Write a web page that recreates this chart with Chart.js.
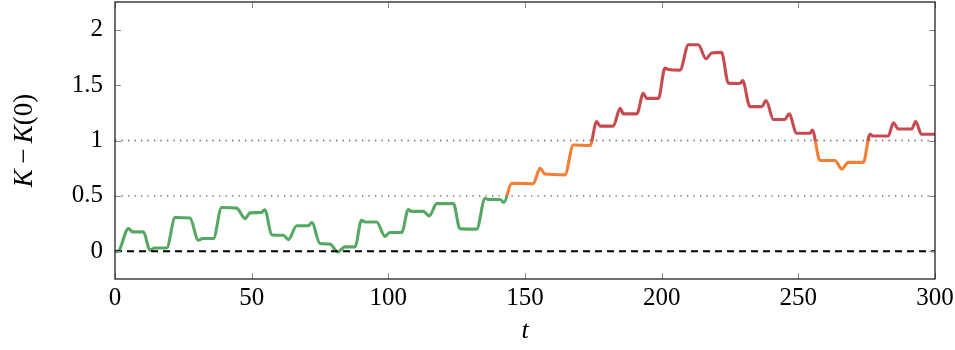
<!DOCTYPE html>
<html>
<head>
<meta charset="utf-8">
<script src="https://cdn.jsdelivr.net/npm/chart.js@4/dist/chart.umd.min.js"></script>
<style>
  html, body { margin: 0; padding: 0; background: #ffffff; }
  #wrap { width: 955px; height: 350px; position: relative; }
</style>
</head>
<body>
<div id="wrap"><canvas id="c" width="955" height="350"></canvas></div>
<script>
// ---- data ----
const tValues = [0, 1, 4.9, 6.5, 10.4, 12.8, 14.5, 18.9, 22, 27.4, 30.5, 32, 36, 39, 44.5, 47.6, 49.4, 53.5, 54.8, 57.3,
  58.5, 61.6, 63.4, 66.5, 70.7, 72, 75, 78.7, 81.5, 84.1, 87.8, 90.2, 91.5, 95.7, 98.8, 100.5, 104.9, 107.3, 108.5, 112.8,
  115, 117.7, 123.8, 126.2, 132.3, 135.4, 136.5, 140.9, 142.3, 145.1, 153, 155.5, 157.3, 164.6, 167.7, 173.8, 176.2, 177.5, 182.3, 184.8,
  186, 190.9, 193.3, 194.5, 198.8, 201.2, 202.5, 206.7, 209.8, 213.4, 216.2, 218.3, 221.9, 224.4, 228.7, 229.6, 232.3, 236.6, 238.2, 240.9,
  245.1, 246.6, 249.4, 254.3, 255.1, 257.9, 263.4, 265.9, 268.3, 273.8, 276.2, 277.5, 282.9, 284.8, 286.5, 291.5, 292.9, 295.1, 300];
const kValues = [0, 0, 0.205, 0.175, 0.175, 0.01, 0.03, 0.03, 0.305, 0.3, 0.1, 0.115, 0.115, 0.395, 0.39, 0.295, 0.347, 0.35, 0.375, 0.15,
  0.145, 0.145, 0.105, 0.23, 0.23, 0.26, 0.07, 0.065, -0.006, 0.04, 0.04, 0.28, 0.265, 0.265, 0.135, 0.17, 0.17, 0.377, 0.36, 0.36,
  0.32, 0.43, 0.43, 0.205, 0.2, 0.477, 0.468, 0.468, 0.44, 0.613, 0.61, 0.748, 0.697, 0.69, 0.96, 0.955, 1.17, 1.13, 1.13, 1.29,
  1.24, 1.24, 1.427, 1.38, 1.38, 1.653, 1.64, 1.635, 1.864, 1.864, 1.738, 1.79, 1.795, 1.518, 1.515, 1.54, 1.306, 1.306, 1.36, 1.19,
  1.19, 1.24, 1.065, 1.065, 1.095, 0.82, 0.82, 0.742, 0.803, 0.803, 1.056, 1.04, 1.04, 1.16, 1.104, 1.104, 1.17, 1.056, 1.056];

const xTicks = [0, 50, 100, 150, 200, 250, 300];
const xTickLabels = ['0', '50', '100', '150', '200', '250', '300'];
const yTicks = [0, 0.5, 1, 1.5, 2];
const yTickLabels = ['0', '0.5', '1', '1.5', '2'];
const thresholds = [0.5, 1];
const zeroLine = [0, 0];
const xRange = [0, 300];
const yRange = [-0.25, 2.25];
const bandColors = ['#55a862', '#f47f33', '#c64b50'];
const xTitle = 't';
const yTitleParts = [['K', true], ['\u2009\u2212\u2009', false], ['K', true], ['(0)', false]];

// ---- chart ----
const FONT = "'Liberation Serif', 'Times New Roman', serif";

const mainPoints = tValues.map((t, i) => ({ x: t, y: kValues[i] }));

function bandGradient(context) {
  const chart = context.chart;
  const area = chart.chartArea;
  if (!area) return bandColors[0];
  const ys = chart.scales.y;
  const bottom = ys.getPixelForValue(yRange[0]);
  const top = ys.getPixelForValue(yRange[1]);
  const g = chart.ctx.createLinearGradient(0, bottom, 0, top);
  const f = thresholds.map(v => (bottom - ys.getPixelForValue(v)) / (bottom - top));
  g.addColorStop(0, bandColors[0]);
  g.addColorStop(f[0], bandColors[0]);
  g.addColorStop(f[0], bandColors[1]);
  g.addColorStop(f[1], bandColors[1]);
  g.addColorStop(f[1], bandColors[2]);
  g.addColorStop(1, bandColors[2]);
  return g;
}

const framePlugin = {
  id: 'frame',
  afterDraw(chart) {
    const { ctx, chartArea: a, scales } = chart;
    ctx.save();
    // inward ticks on all four sides
    ctx.strokeStyle = '#8a8a8a';
    ctx.lineWidth = 1;
    const L = 6;
    ctx.beginPath();
    xTicks.forEach(v => {
      const px = Math.round(scales.x.getPixelForValue(v)) + 0.5;
      ctx.moveTo(px, a.bottom); ctx.lineTo(px, a.bottom - L);
      ctx.moveTo(px, a.top); ctx.lineTo(px, a.top + L);
    });
    yTicks.forEach(v => {
      const py = Math.round(scales.y.getPixelForValue(v)) + 0.5;
      ctx.moveTo(a.left, py); ctx.lineTo(a.left + L, py);
      ctx.moveTo(a.right, py); ctx.lineTo(a.right - L, py);
    });
    ctx.stroke();
    // frame
    ctx.strokeStyle = '#222222';
    ctx.lineWidth = 1.3;
    ctx.strokeRect(a.left, a.top, a.right - a.left, a.bottom - a.top);

    // axis titles
    ctx.fillStyle = '#000000';
    ctx.textBaseline = 'alphabetic';
    ctx.font = 'italic 26px ' + FONT;
    ctx.textAlign = 'center';
    ctx.fillText(xTitle, (a.left + a.right) / 2, 338);

    // y title with mixed italic / upright parts
    const fonts = yTitleParts.map(p => (p[1] ? 'italic ' : '') + '27px ' + FONT);
    const widths = yTitleParts.map((p, i) => { ctx.font = fonts[i]; return ctx.measureText(p[0]).width; });
    const total = widths.reduce((s, w) => s + w, 0);
    ctx.translate(32, (a.top + a.bottom) / 2);
    ctx.rotate(-Math.PI / 2);
    ctx.textAlign = 'left';
    let x = -total / 2;
    yTitleParts.forEach((p, i) => { ctx.font = fonts[i]; ctx.fillText(p[0], x, 0); x += widths[i]; });
    ctx.restore();
  }
};

new Chart(document.getElementById('c'), {
  type: 'line',
  data: {
    datasets: [
      {
        data: mainPoints,
        borderColor: bandGradient,
        borderWidth: 3.1,
        pointRadius: 0,
        cubicInterpolationMode: 'monotone',
        fill: false,
        order: 3
      },
      {
        data: xRange.map((x, i) => ({ x: x, y: zeroLine[i] })),
        borderColor: '#000000',
        borderWidth: 2,
        borderDash: [7, 5],
        pointRadius: 0,
        fill: false,
        order: 1
      },
      ...thresholds.map(v => ({
        data: xRange.map(x => ({ x: x, y: v })),
        borderColor: 'rgba(60,60,60,0.85)',
        borderWidth: 1.3,
        borderDash: [1.3, 5.2],
        pointRadius: 0,
        fill: false,
        order: 4
      }))
    ]
  },
  options: {
    responsive: false,
    animation: false,
    events: [],
    layout: { padding: { left: 0, right: 20, top: 2, bottom: 0 } },
    plugins: { legend: { display: false }, tooltip: { enabled: false } },
    scales: {
      x: {
        type: 'linear',
        min: xRange[0],
        max: xRange[1],
        afterBuildTicks: s => { s.ticks = xTicks.map(v => ({ value: v })); },
        afterFit: s => { s.height = 71; s.paddingLeft = 0; s.paddingRight = 0; },
        grid: { display: false, drawTicks: false },
        border: { display: false },
        ticks: {
          padding: 4,
          color: '#000000',
          maxRotation: 0,
          autoSkip: false,
          font: { family: FONT, size: 25 },
          callback: (v) => xTickLabels[xTicks.indexOf(v)]
        }
      },
      y: {
        type: 'linear',
        min: yRange[0],
        max: yRange[1],
        afterBuildTicks: s => { s.ticks = yTicks.map(v => ({ value: v })); },
        afterFit: s => { s.width = 115; s.paddingTop = 0; s.paddingBottom = 0; },
        grid: { display: false, drawTicks: false },
        border: { display: false },
        ticks: {
          padding: 12,
          color: '#000000',
          autoSkip: false,
          font: { family: FONT, size: 25 },
          callback: (v) => yTickLabels[yTicks.indexOf(v)]
        }
      }
    }
  },
  plugins: [framePlugin]
});
</script>
</body>
</html>
